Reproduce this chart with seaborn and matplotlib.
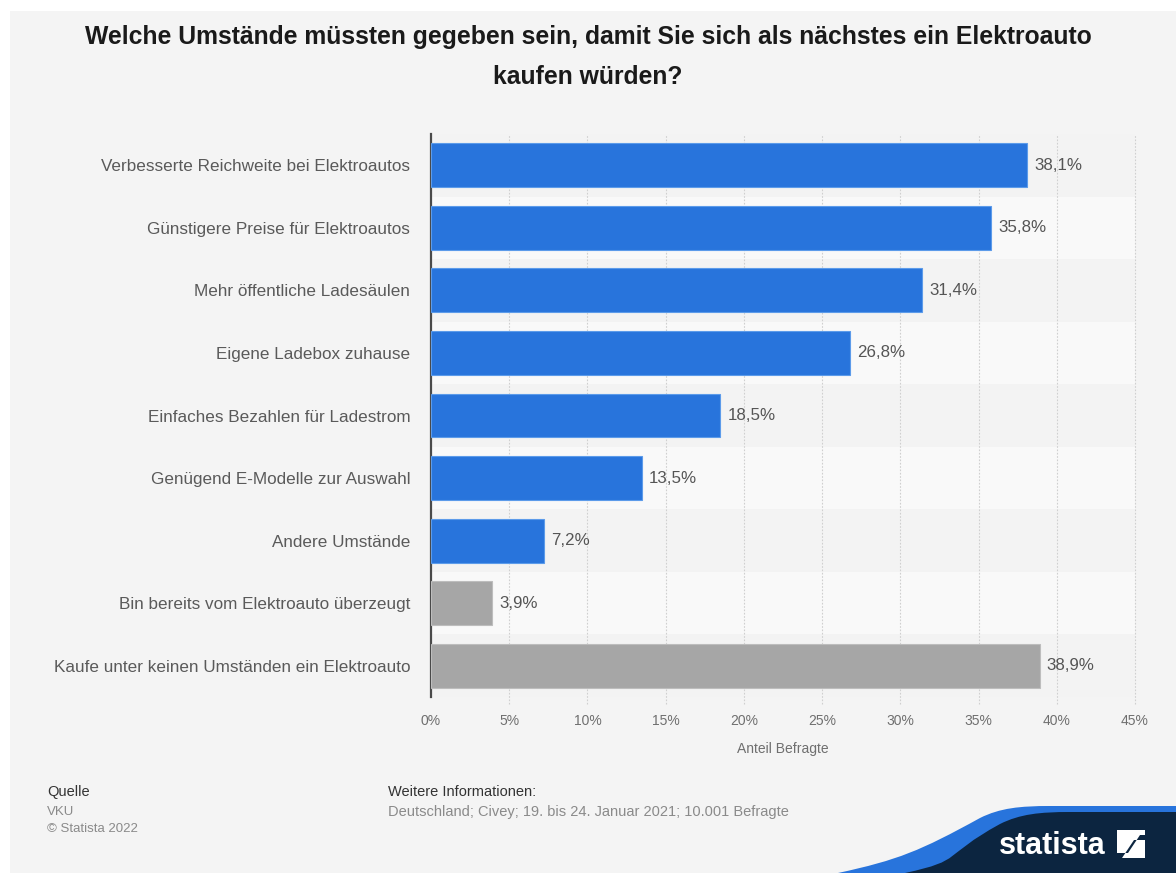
import matplotlib
matplotlib.use("Agg")
import matplotlib.pyplot as plt
from matplotlib.patches import Rectangle, PathPatch, Polygon
from matplotlib.path import Path
import seaborn as sns
import pandas as pd

categories = [
    "Verbesserte Reichweite bei Elektroautos",
    "Günstigere Preise für Elektroautos",
    "Mehr öffentliche Ladesäulen",
    "Eigene Ladebox zuhause",
    "Einfaches Bezahlen für Ladestrom",
    "Genügend E-Modelle zur Auswahl",
    "Andere Umstände",
    "Bin bereits vom Elektroauto überzeugt",
    "Kaufe unter keinen Umständen ein Elektroauto",
]
values = [38.1, 35.8, 31.4, 26.8, 18.5, 13.5, 7.2, 3.9, 38.9]
groups = ["Umstand"] * 7 + ["Sonstige"] * 2
xticks = [0, 5, 10, 15, 20, 25, 30, 35, 40, 45]

title = ("Welche Umstände müssten gegeben sein, damit Sie sich als nächstes ein Elektroauto\n"
         "kaufen würden?")
xlabel = "Anteil Befragte"

sns.set_theme(style="white")
plt.rcParams["font.family"] = ["Liberation Sans", "DejaVu Sans"]

W, H = 1176, 873
fig = plt.figure(figsize=(W / 100, H / 100), dpi=100, facecolor="#f4f4f4")

def fx(px):
    return px / W

def fy(py):
    return 1 - py / H

# thin white margin along the top and left edges
fig.patches.append(Rectangle((0, fy(11)), 1, 1, transform=fig.transFigure,
                             facecolor="white", edgecolor="none", zorder=1))
fig.patches.append(Rectangle((0, 0), fx(10), 1, transform=fig.transFigure,
                             facecolor="white", edgecolor="none", zorder=1))

ax = fig.add_axes([fx(431), fy(697), fx(1135) - fx(431), fy(134) - fy(697)])
ax.set_facecolor("none")
ax.set_zorder(5)

df = pd.DataFrame({"Umstand": categories, "Anteil": values, "Gruppe": groups})
palette = {"Umstand": "#2874dc", "Sonstige": "#a6a6a6"}
edges = {"Umstand": "#5c9bea", "Sonstige": "#bdbdbd"}

# alternating row bands
for i in range(len(categories)):
    ax.axhspan(i - 0.5, i + 0.5, facecolor="#f9f9f9" if i % 2 else "#f3f3f3",
               edgecolor="none", linewidth=0, zorder=0)

sns.barplot(data=df, x="Anteil", y="Umstand", hue="Gruppe", palette=palette,
            hue_order=["Umstand", "Sonstige"], saturation=1,
            dodge=False, legend=False, width=0.7, ax=ax, zorder=3, linewidth=0.8)
for container, g in zip(ax.containers, ["Umstand", "Sonstige"]):
    for bar in container:
        bar.set_edgecolor(edges[g])

for i, v in enumerate(values):
    ax.text(v + 0.45, i, f"{v:.1f}".replace(".", ",") + "%", va="center", ha="left",
            fontsize=12.2, color="#555555", zorder=4)

ax.set_xlim(0, 45)
ax.set_ylim(len(categories) - 0.5, -0.5)
ax.set_xticks(xticks)
ax.set_xticklabels([f"{t}%" for t in xticks])
for t in xticks[1:]:
    ax.axvline(t, color="#cfcfcf", linestyle=(0, (1.5, 1.5)), linewidth=0.8, zorder=1,
               ymin=-0.012, clip_on=False)
ax.tick_params(axis="x", length=0, pad=12, labelsize=10, labelcolor="#6f6f6f")
ax.tick_params(axis="y", length=0, pad=15, labelsize=12.3, labelcolor="#5a5a5a")
ax.set_ylabel("")
ax.set_xlabel(xlabel, fontsize=10, color="#6f6f6f", labelpad=10)

for s in ["top", "right", "bottom"]:
    ax.spines[s].set_visible(False)
ax.spines["left"].set_color("#4a4a4a")
ax.spines["left"].set_linewidth(1.6)

fig.text(0.5, fy(57), title, ha="center", va="center", fontsize=17.8, fontweight="bold",
         color="#1a1a1a", linespacing=1.8)

# footer
fig.text(fx(47), fy(792), "Quelle", fontsize=10.5, color="#333333", va="center")
fig.text(fx(47), fy(812), "VKU", fontsize=9.5, color="#8a8a8a", va="center")
fig.text(fx(47), fy(829), "© Statista 2022", fontsize=9.5, color="#8a8a8a", va="center")
fig.text(fx(388), fy(792), "Weitere Informationen:", fontsize=10.5, color="#333333", va="center")
fig.text(fx(388), fy(812), "Deutschland; Civey; 19. bis 24. Januar 2021; 10.001 Befragte",
         fontsize=10.5, color="#8a8a8a", va="center")

# brand corner
def corner(x0, xs, y_flat):
    verts = [(fx(x0), fy(873)),
             (fx(x0 + 60), fy(860)), (fx(xs - 90), fy(y_flat + 45)), (fx(xs - 30), fy(y_flat + 12)),
             (fx(xs - 10), fy(y_flat + 2)), (fx(xs + 10), fy(y_flat)), (fx(xs + 40), fy(y_flat)),
             (1, fy(y_flat)), (1, 0), (fx(x0), 0), (fx(x0), fy(873))]
    codes = [Path.MOVETO, Path.CURVE4, Path.CURVE4, Path.CURVE4,
             Path.CURVE4, Path.CURVE4, Path.CURVE4,
             Path.LINETO, Path.LINETO, Path.LINETO, Path.CLOSEPOLY]
    return Path(verts, codes)

fig.patches.append(PathPatch(corner(838, 1010, 806), transform=fig.transFigure,
                             facecolor="#2874dc", edgecolor="none", zorder=1))
fig.patches.append(PathPatch(corner(905, 1030, 812), transform=fig.transFigure,
                             facecolor="#0c2540", edgecolor="none", zorder=2))
fig.text(fx(1052), fy(846), "statista", ha="center", va="center", fontsize=22,
         fontweight="bold", color="white", zorder=3)
fig.patches.append(Rectangle((fx(1117), fy(858)), fx(28), fy(830) - fy(858),
                             transform=fig.transFigure, facecolor="white",
                             edgecolor="none", zorder=3))
fig.patches.append(Polygon([(fx(1117), fy(853)), (fx(1128), fy(853)), (fx(1140), fy(835)),
                            (fx(1145), fy(835)), (fx(1145), fy(840)), (fx(1134), fy(840)),
                            (fx(1122), fy(858)), (fx(1117), fy(858))],
                           closed=True, transform=fig.transFigure, facecolor="#0c2540",
                           edgecolor="none", zorder=4))

fig.savefig("out.png", dpi=100, facecolor=fig.get_facecolor())
